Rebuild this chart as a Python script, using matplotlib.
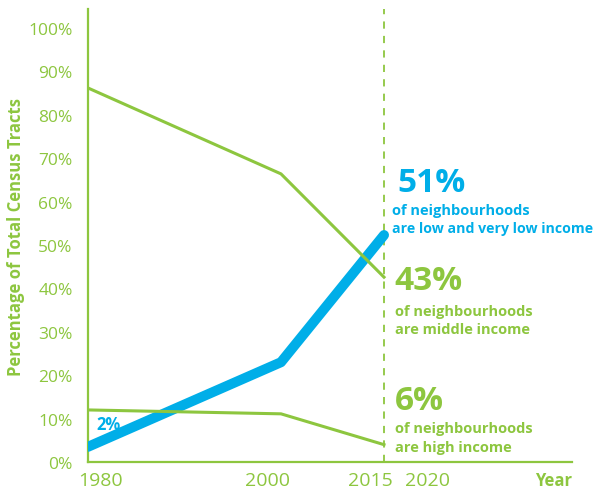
import numpy as np
import matplotlib
matplotlib.use("Agg")
import matplotlib.pyplot as plt

# ---- data ----
years = [1980, 2000, 2015]
low_income = [3.5, 23.0, 52.3]
middle_income = [86.2, 66.4, 42.6]
high_income = [12.0, 11.1, 4.0]
tick_years = [1980, 2000, 2015, 2020]
tick_labels = ["1980", "2000", "2015", "2020"]
ytick_vals = list(range(0, 101, 10))
ytick_labels = [f"{v}%" for v in ytick_vals]

GREEN = "#8DC63F"
BLUE = "#00AEE8"
plt.rcParams['font.family'] = ['Open Sans', 'DejaVu Sans']

fig = plt.figure(figsize=(6.05, 4.89), dpi=100)
W, H = 605, 489
ax = fig.add_axes([88 / W, (H - 463) / H, (572 - 88) / W, (463 - 10) / H])

# piecewise-linear year scale (infographic spacing)
anchor_y = np.array([1900, 1980, 2000, 2015, 2020, 2030, 2100], dtype=float)
anchor_p = np.array([-684, 88, 281, 384, 441, 572, 1489], dtype=float)
fwd = lambda x: np.interp(x, anchor_y, anchor_p)
inv = lambda p: np.interp(p, anchor_p, anchor_y)
ax.set_xscale('function', functions=(fwd, inv))
ax.set_xlim(1980, 2030)
ax.set_ylim(0, 104.4)

ax.plot(years, low_income, color=BLUE, lw=7.2, solid_capstyle='round', zorder=3)
ax.plot(years, middle_income, color=GREEN, lw=2.2, zorder=4)
ax.plot(years, high_income, color=GREEN, lw=2.2, zorder=4)
ax.axvline(2015, color=GREEN, lw=1.3, ls=(0, (4, 4)), zorder=2)

for s in ['top', 'right']:
    ax.spines[s].set_visible(False)
for s in ['left', 'bottom']:
    ax.spines[s].set_color(GREEN)
    ax.spines[s].set_linewidth(1.6)

ax.set_yticks(ytick_vals)
ax.set_yticklabels(ytick_labels, fontsize=12.5, color=GREEN)
ax.tick_params(axis='y', length=0, pad=11)
ax.set_xticks([])
ax.xaxis.set_minor_locator(matplotlib.ticker.NullLocator())

label_dx = [12, -14, -14, -14]
for yr, lab, dx in zip(tick_years, tick_labels, label_dx):
    ax.annotate(lab, xy=(yr, 0), xycoords=('data', 'axes fraction'),
                xytext=(dx, -18), textcoords='offset pixels',
                ha='center', va='center', fontsize=14, color=GREEN)
ax.annotate("Year", xy=(1, 0), xycoords='axes fraction', xytext=(0, -18),
            textcoords='offset pixels', ha='right', va='center',
            fontsize=12, fontweight='bold', color=GREEN)

ax.set_ylabel("Percentage of Total Census Tracts", fontsize=12, fontweight='bold',
              color=GREEN)
ax.yaxis.set_label_coords((25 - 88) / 484, 0.5)

def px(x, y):
    return ((x - 88) / 484, (463 - y) / 453)

T = ax.transAxes
def put(x, y, s, size, color):
    ax.text(*px(x, y), s, transform=T, ha='left', va='baseline', fontsize=size,
            fontweight='bold', color=color, clip_on=False)

put(397, 192, "51%", 24, BLUE)
put(392, 215, "of neighbourhoods", 10.5, BLUE)
put(392, 233, "are low and very low income", 10.2, BLUE)
put(394, 290, "43%", 24, GREEN)
put(395, 316, "of neighbourhoods", 10.5, GREEN)
put(395, 334, "are middle income", 10.5, GREEN)
put(395, 410, "6%", 24, GREEN)
put(395, 433, "of neighbourhoods", 10.5, GREEN)
put(395, 452, "are high income", 10.5, GREEN)
put(96, 430, "2%", 12, BLUE)

fig.savefig("out.png", dpi=100)
